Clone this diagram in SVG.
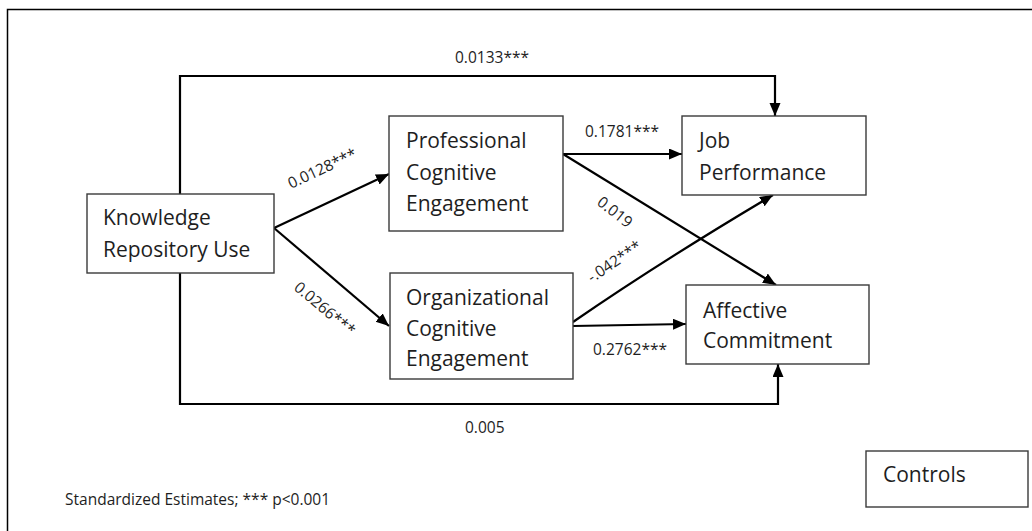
<svg xmlns="http://www.w3.org/2000/svg" width="1032" height="531" viewBox="0 0 1032 531">
  <defs>
    <marker id="arrow" markerUnits="userSpaceOnUse" markerWidth="14" markerHeight="12" refX="13" refY="5.5" orient="auto">
      <path d="M0,0 L13,5.5 L0,11 Z" fill="#000"/>
    </marker>
    <style>
      .box { fill: #fff; stroke: #3a3a3a; stroke-width: 1.4; }
      .node-text { font-family: "Open Sans", "Noto Sans", sans-serif; font-size: 21px; fill: #1e1e1e; }
      .edge { fill: none; stroke: #000; stroke-width: 2.2; marker-end: url(#arrow); }
      .label { font-family: "Open Sans", "Noto Sans", sans-serif; font-size: 15.5px; fill: #1e1e1e; }
      .note { font-family: "Open Sans", "Noto Sans", sans-serif; font-size: 15.5px; fill: #1e1e1e; }
    </style>
  </defs>

  <rect width="1032" height="531" fill="#fff"/>
  <!-- outer frame, cut off at right and bottom -->
  <rect x="7.5" y="9.5" width="1100" height="600" fill="none" stroke="#000" stroke-width="1.5"/>

  <g id="connectors">
    <polyline class="edge" points="180,194 180,76 775,76 775,116"/>
    <polyline class="edge" points="180,273 180,404 778,404 778,364"/>
    <line class="edge" x1="274" y1="228" x2="389" y2="174"/>
    <line class="edge" x1="274" y1="228" x2="389" y2="326"/>
    <line class="edge" x1="563" y1="154" x2="682" y2="154"/>
    <line class="edge" x1="563" y1="154" x2="776" y2="285"/>
    <path class="edge" d="M573,322 Q660,262 773,195"/>
    <line class="edge" x1="573" y1="326" x2="686" y2="324"/>
  </g>

  <g id="edge-labels">
    <text class="label" x="455" y="63">0.0133***</text>
    <text class="label" transform="translate(291,189) rotate(-25)">0.0128***</text>
    <text class="label" transform="translate(293,289) rotate(40)">0.0266***</text>
    <text class="label" x="585" y="137">0.1781***</text>
    <text class="label" transform="translate(596,204) rotate(38)">0.019</text>
    <text class="label" transform="translate(592,283) rotate(-34)">-.042***</text>
    <text class="label" x="593" y="355">0.2762***</text>
    <text class="label" x="465" y="433">0.005</text>
  </g>

  <g id="kru">
    <rect class="box" x="87" y="194" width="187" height="79"/>
    <text class="node-text" x="103" y="225">Knowledge</text>
    <text class="node-text" x="103" y="257">Repository Use</text>
  </g>

  <g id="pce">
    <rect class="box" x="389" y="116" width="174" height="115"/>
    <text class="node-text" x="406" y="148">Professional</text>
    <text class="node-text" x="406" y="180">Cognitive</text>
    <text class="node-text" x="406" y="211">Engagement</text>
  </g>

  <g id="oce">
    <rect class="box" x="390" y="273" width="183" height="106"/>
    <text class="node-text" x="406" y="305">Organizational</text>
    <text class="node-text" x="406" y="336">Cognitive</text>
    <text class="node-text" x="406" y="366">Engagement</text>
  </g>

  <g id="jp">
    <rect class="box" x="682" y="116" width="184" height="79"/>
    <text class="node-text" x="699" y="148">Job</text>
    <text class="node-text" x="699" y="180">Performance</text>
  </g>

  <g id="ac">
    <rect class="box" x="686" y="285" width="183" height="79"/>
    <text class="node-text" x="703" y="318">Affective</text>
    <text class="node-text" x="703" y="348">Commitment</text>
  </g>

  <g id="controls">
    <rect class="box" x="866" y="451" width="162" height="56"/>
    <text class="node-text" x="883" y="482">Controls</text>
  </g>

  <text class="note" x="65" y="505">Standardized Estimates; *** p&lt;0.001</text>
</svg>
